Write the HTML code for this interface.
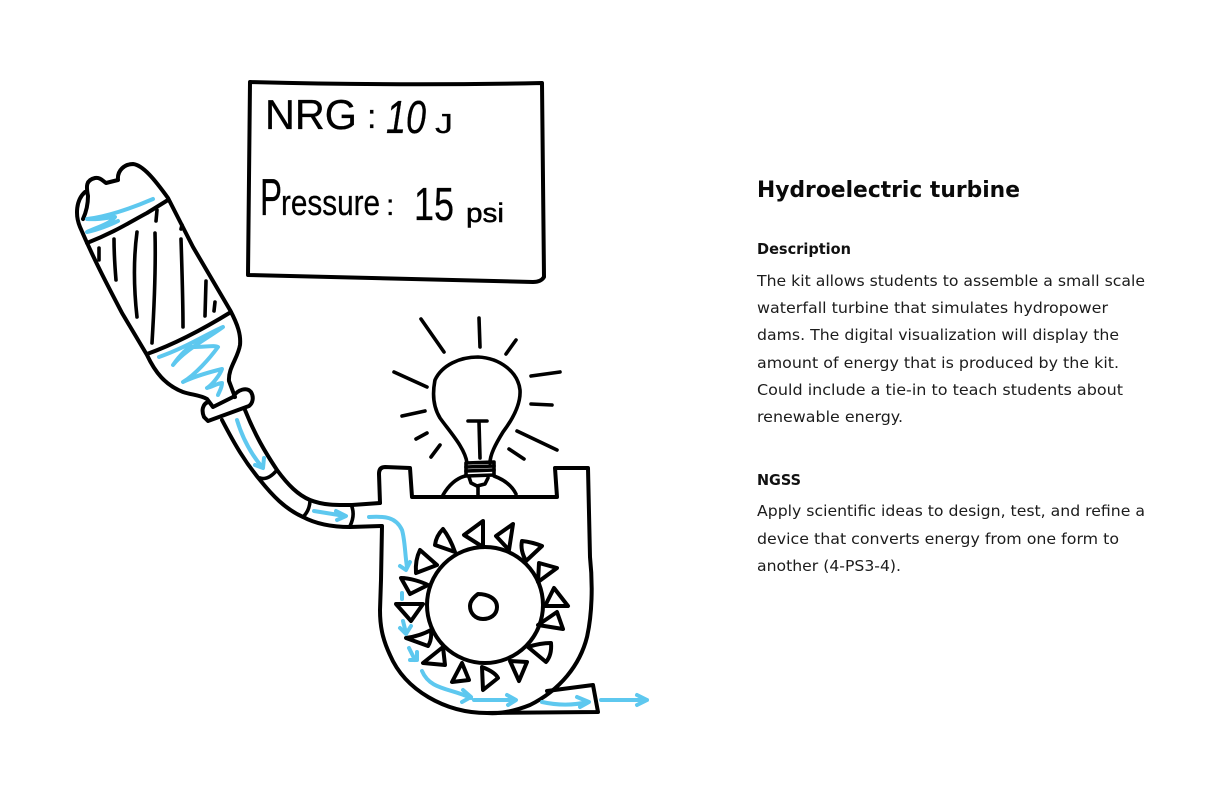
<!DOCTYPE html>
<html><head><meta charset="utf-8"><style>
html,body{margin:0;padding:0;background:#fff;width:1224px;height:792px;overflow:hidden}
svg{display:block}
.k{fill:none;stroke:#000;stroke-width:4;stroke-linecap:round;stroke-linejoin:round}
.t{stroke-width:3.6}
.b{fill:none;stroke:#5ec8ef;stroke-width:4;stroke-linecap:round;stroke-linejoin:round}
.h{font-family:"Liberation Sans",sans-serif;fill:#000;stroke:#000;stroke-width:.3}
.r{font-family:"DejaVu Sans",sans-serif;fill:#1c1c1c;font-size:15.5px}
.s{font-family:"DejaVu Sans",sans-serif;fill:#111;font-size:15.4px;font-weight:bold}
</style></head><body>
<svg width="1224" height="792" viewBox="0 0 1224 792" xmlns="http://www.w3.org/2000/svg">
<rect width="1224" height="792" fill="#fff"/>
<!-- screen -->
<path class="k" d="M250,82 Q400,86 542,83 L544,277 Q541,282 533,282 Q400,279 248,275 Z"/>
<text class="h" x="265" y="129" font-size="42" textLength="92" lengthAdjust="spacingAndGlyphs">NRG</text>
<text class="h" x="367" y="128" font-size="34">:</text>
<text class="h" x="386" y="133" font-size="46" font-style="italic" textLength="40" lengthAdjust="spacingAndGlyphs">10</text>
<text class="h" x="435" y="133" font-size="28" textLength="18" lengthAdjust="spacingAndGlyphs">J</text>
<text class="h" x="260" y="215" font-size="52" textLength="22" lengthAdjust="spacingAndGlyphs">P</text>
<text class="h" x="281" y="215" font-size="36" textLength="99" lengthAdjust="spacingAndGlyphs">ressure</text>
<text class="h" x="386" y="215" font-size="30">:</text>
<text class="h" x="414" y="220" font-size="46" textLength="40" lengthAdjust="spacingAndGlyphs">15</text>
<text class="h" x="466" y="222" font-size="27" textLength="38" lengthAdjust="spacingAndGlyphs" style="stroke-width:.5">psi</text>
<!-- bottle -->
<path class="k" d="M83,219 C88,208 88,200 88,196 C86,186 86,180 95,178 C100,177 103,181 106,183 L118,180 C117,170 125,164 133,164 C143,165 155,180 168,198 L193,247 L230,310 C238,325 241,335 240,345 C238,358 228,368 229,381 L235,397"/>
<path class="k" d="M85,192 C76,200 75,215 80,227 C95,262 110,290 122,313 L147,355 C155,372 165,385 183,392 C192,395 200,395 207,399 L213,407 L233,397 C238,389 247,387 251,392 C254,397 253,403 249,406 L208,421 L204,417 C201,410 203,404 208,402"/>
<path class="k" d="M87,243 C115,232 130,222 147,213 L168,200"/>
<path class="k" d="M147,354 C175,344 205,328 231,312"/>
<g class="k t">
<path d="M99,248 L99,260"/><path d="M114,239 C114,255 115,268 116,280"/>
<path d="M137,232 C133,262 134,290 137,317"/><path d="M155,233 C156,270 154,310 152,343"/>
<path d="M157,210 L156,221"/><path d="M182,225 L181,229"/><path d="M181,239 C182,270 183,300 183,327"/>
<path d="M206,281 L205,316"/><path d="M215,302 L214,311"/>
</g>
<path class="b" d="M153,199 C130,209 105,217 87,219 C100,220 110,217 115,217 C110,224 95,228 87,232 C97,230 110,225 118,221"/>
<path class="b" d="M159,357 C185,348 205,335 223,327 C205,340 185,350 173,365 C180,355 190,345 192,347 C205,347 215,345 218,347 C210,358 195,375 183,382 C195,376 210,372 222,369 C220,375 212,385 207,388 C212,387 218,383 222,383 C222,388 219,392 218,395"/>
<!-- tube -->
<path class="k" d="M222,420 C235,445 245,462 260,480 C272,495 285,509 303,517 C318,525 335,527 350,527 L381,526"/>
<path class="k" d="M245,410 C255,435 265,452 277,470 C288,485 298,495 310,500 C325,506 340,505 352,505 L380,503"/>
<path class="k t" d="M260,478 C266,480 272,476 277,470"/>
<path class="k t" d="M310,500 C310,508 307,513 303,517"/>
<path class="k t" d="M352,507 C354,513 353,520 350,526"/>
<path class="b" d="M237,420 C243,440 252,455 262,467 M255,465 L263,468 L264,458"/>
<path class="b" d="M314,511 L345,516 M336,511 L346,516 L337,520"/>
<!-- housing -->
<path class="k" d="M380,503 L379,474 Q379,467 385,467 L410,468 L412,497 L557,497 L555,468 L588,468 L590,557 C593,585 592,615 587,637 C580,665 560,690 530,705 C515,711 500,714 487,713 C445,713 405,690 390,655 C382,638 380,625 380,610 L381,580 L382,526"/>
<path class="k" d="M487,713 L598,712 L593,685 L547,691"/>
<circle class="k" cx="485" cy="605" r="58"/>
<path class="k" d="M478,594 C487,594 497,598 497,607 C497,615 490,619 483,619 C475,619 470,613 470,606 C470,601 474,597 478,594 Z"/>
<!-- blades -->
<g class="k">
<path d="M483,521 L464,535 L483,547 Z"/>
<path d="M513,524 L496,536 L509,550 Z"/>
<path d="M522,541 Q532,542 542,546 L526,561 Q520,550 522,541 Z"/>
<path d="M539,563 L557,568 L538,582 Z"/>
<path d="M554,588 L568,606 L545,606 Z"/>
<path d="M557,612 L563,629 L538,625 Z"/>
<path d="M551,643 Q552,655 546,662 L528,647 Q540,643 551,643 Z"/>
<path d="M527,662 L510,661 L519,681 Z"/>
<path d="M482,667 Q495,672 498,678 L483,690 Z"/>
<path d="M462,663 L452,682 L469,680 Z"/>
<path d="M443,647 L423,663 L445,665 Z"/>
<path d="M431,630 Q420,636 406,638 L428,646 Q432,640 431,630 Z"/>
<path d="M423,604 L396,604 L411,621 Z"/>
<path d="M401,578 C410,578 422,582 428,585 L410,594 Z"/>
<path d="M420,550 L437,565 L416,573 Q415,560 420,550 Z"/>
<path d="M443,529 Q436,536 435,545 L455,552 Q450,538 443,529 Z"/>
</g>
<!-- bulb -->
<g class="k t">
<path d="M467,463 C465,448 450,432 440,418 C432,405 433,390 435,380 C442,365 460,357 478,357 C500,358 518,372 520,390 C521,405 512,420 503,432 C495,445 490,455 490,463"/>
<path d="M466,463 L494,462 L494,475 L466,476 Z"/>
<path d="M466,467 L494,466"/><path d="M466,471 L494,470"/>
<path d="M469,477 L471,483 L477,486 L485,484 L488,478"/>
<path d="M468,421 L487,421"/><path d="M479,422 L480,458"/>
<path d="M443,495 C450,483 458,478 465,476"/><path d="M494,476 C505,480 512,486 516,494"/>
<path d="M478,487 L478,497"/>
<path d="M421,319 L444,352"/><path d="M479,318 L480,347"/><path d="M516,340 L506,354"/>
<path d="M531,376 L560,372"/><path d="M531,404 L552,405"/><path d="M517,431 L557,450"/>
<path d="M509,449 L524,459"/><path d="M394,372 L427,387"/><path d="M402,416 L425,411"/>
<path d="M416,439 L427,433"/><path d="M431,457 L440,445"/>
</g>
<!-- flow arrows -->
<path class="b" d="M369,517 C385,516 396,517 402,530 C405,540 405,555 407,567 M400,566 L406,570 L410,562"/>
<path class="b" d="M402,593 L402,599"/>
<path class="b" d="M403,621 L406,633 M400,628 L406,634 L411,626"/>
<path class="b" d="M409,648 L415,660 M410,660 L417,660 L417,652"/>
<path class="b" d="M422,671 C430,690 450,688 471,698 M463,690 L471,697 L462,702"/>
<path class="b" d="M474,700 L515,700 M507,695 L516,700 L508,705"/>
<path class="b" d="M542,702 C560,706 575,705 588,702 M577,697 L589,702 L580,707"/>
<path class="b" d="M601,700 L647,700 M637,695 L647,700 L637,705"/>
<!-- right text -->
<text x="757" y="197" font-family="DejaVu Sans,sans-serif" font-weight="bold" font-size="22.5" fill="#0a0a0a" textLength="263" lengthAdjust="spacingAndGlyphs">Hydroelectric turbine</text>
<text class="s" x="757" y="254" textLength="94" lengthAdjust="spacingAndGlyphs">Description</text>
<text class="r" x="757" y="286" textLength="388" lengthAdjust="spacingAndGlyphs">The kit allows students to assemble a small scale</text>
<text class="r" x="757" y="313" textLength="351" lengthAdjust="spacingAndGlyphs">waterfall turbine that simulates hydropower</text>
<text class="r" x="757" y="340" textLength="362" lengthAdjust="spacingAndGlyphs">dams. The digital visualization will display the</text>
<text class="r" x="757" y="368" textLength="362" lengthAdjust="spacingAndGlyphs">amount of energy that is produced by the kit.</text>
<text class="r" x="757" y="395" textLength="366" lengthAdjust="spacingAndGlyphs">Could include a tie-in to teach students about</text>
<text class="r" x="757" y="422" textLength="146" lengthAdjust="spacingAndGlyphs">renewable energy.</text>
<text class="s" x="757" y="485" textLength="44" lengthAdjust="spacingAndGlyphs">NGSS</text>
<text class="r" x="757" y="516" textLength="388" lengthAdjust="spacingAndGlyphs">Apply scientific ideas to design, test, and refine a</text>
<text class="r" x="757" y="544" textLength="362" lengthAdjust="spacingAndGlyphs">device that converts energy from one form to</text>
<text class="r" x="757" y="571" textLength="144" lengthAdjust="spacingAndGlyphs">another (4-PS3-4).</text>
</svg>
</body></html>
